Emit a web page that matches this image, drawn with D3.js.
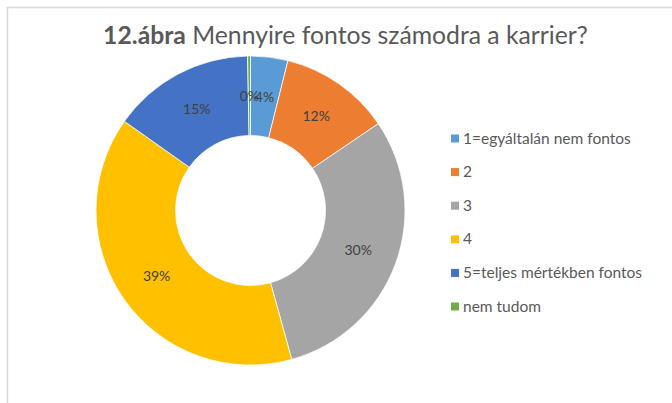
<!DOCTYPE html>
<html>
<head>
<meta charset="utf-8">
<script src="https://cdn.jsdelivr.net/npm/d3@7"></script>
<style>
	body { margin: 0; background: #fff; }
	svg { display: block; }
	text { font-family: Lato, 'Open Sans', sans-serif; }
</style>
</head>
<body>
<svg id="chart" width="672" height="403"></svg>
<script>
const categories = ['1=egyáltalán nem fontos', '2', '3', '4', '5=teljes mértékben fontos', 'nem tudom'];
const values = [3.9, 11.6, 30.2, 39.1, 14.9, 0.3];
const colors = ['#5B9BD5', '#ED7D31', '#A5A5A5', '#FFC000', '#4472C4', '#70AD47'];

const width = 672;
const height = 403;
const cx = 250.5;
const cy = 210.5;
const outerR = 154.5;
const innerR = 75;

const svg = d3.select('#chart');

// chart frame, runs off the right and bottom of the shot
svg.append('rect')
	.attr('x', 7.5)
	.attr('y', 7.5)
	.attr('width', width + 20)
	.attr('height', height + 20)
	.attr('fill', '#fff')
	.attr('stroke', '#d9d9d9')
	.attr('stroke-width', 1.5);

// fit a text node to a target width by adjusting its font size
function fitWidth(sel, target) {
	const w = sel.node().getComputedTextLength();
	const fs = parseFloat(sel.attr('font-size'));
	sel.attr('font-size', fs * target / w);
}

const title = svg.append('text')
	.attr('x', 345.5)
	.attr('y', 43.5)
	.attr('text-anchor', 'middle')
	.attr('font-size', 24)
	.attr('fill', '#595959');
title.append('tspan').attr('font-weight', 'bold').text('12.ábra');
title.append('tspan').text(' Mennyire fontos számodra a karrier?');
fitWidth(title, 485);

const pie = d3.pie().sort(null).value(d => d);
const arcs = pie(values);
const arc = d3.arc().innerRadius(innerR).outerRadius(outerR);
const labelArc = d3.arc().innerRadius((innerR + outerR) / 2).outerRadius((innerR + outerR) / 2);

const g = svg.append('g').attr('transform', `translate(${cx},${cy})`);

g.selectAll('path')
	.data(arcs)
	.enter()
	.append('path')
	.attr('d', arc)
	.attr('fill', (d, i) => colors[i])
	.attr('stroke', '#fff')
	.attr('stroke-width', 0.75);

const total = d3.sum(values);
g.selectAll('text.label')
	.data(arcs)
	.enter()
	.append('text')
	.attr('class', 'label')
	.attr('transform', d => {
		const [x, y] = labelArc.centroid(d);
		return `translate(${x},${y})`;
	})
	.attr('text-anchor', 'middle')
	.attr('dy', '0.35em')
	.attr('font-size', 14)
	.attr('fill', '#404040')
	.text(d => `${Math.round(d.value / total * 100)}%`);

// legend
const legendX = 451;
const legendY = 138.5;
const legendStep = 33.6;

const legend = svg.append('g');
const item = legend.selectAll('g')
	.data(categories)
	.enter()
	.append('g')
	.attr('transform', (d, i) => `translate(${legendX},${legendY + i * legendStep})`);

item.append('rect')
	.attr('x', 0)
	.attr('y', -4)
	.attr('width', 8)
	.attr('height', 8)
	.attr('fill', (d, i) => colors[i]);

const legendText = item.append('text')
	.attr('x', 12)
	.attr('y', 5)
	.attr('font-size', 15)
	.attr('fill', '#595959')
	.text(d => d);

// scale legend font so the longest entries match the picture widths on average
const nodes = legendText.nodes();
const ratio = (168 / nodes[0].getComputedTextLength() + 179 / nodes[4].getComputedTextLength()) / 2;
legendText.attr('font-size', 15 * ratio);
</script>
</body>
</html>
